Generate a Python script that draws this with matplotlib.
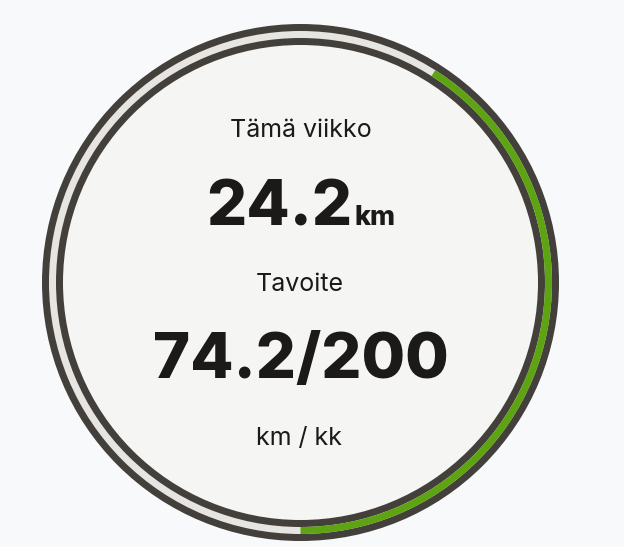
import matplotlib
matplotlib.use("Agg")
import matplotlib.pyplot as plt
from matplotlib.patches import Wedge, Circle

# ---- data ----
week_label = "Tämä viikko"
week_km = 24.2
goal_label = "Tavoite"
month_km = 74.2
goal_km = 200
unit_small = "km"
unit_label = "km / kk"
arc_progress = 0.41  # fraction of the ring drawn green

# ---- style ----
W, H = 624, 547
bg = "#f8f9fb"
dark = "#433f3b"
track = "#e7e5e2"
green = "#5ea312"
fill = "#f5f5f3"
text_col = "#1c1a19"
font = ["Inter", "DejaVu Sans"]

fig = plt.figure(figsize=(W / 100, H / 100), dpi=100, facecolor=bg)
ax = fig.add_axes([0, 0, 1, 1])
ax.set_xlim(0, W)
ax.set_ylim(0, H)
ax.set_aspect("equal")
ax.axis("off")
ax.set_facecolor(bg)

cx, cy = 300.5, H - 282.5
r_out, r1, r2, r_in = 258.5, 251.5, 244.5, 237.5

ax.add_patch(Circle((cx, cy), r_out, color=dark, lw=0))
ax.add_patch(Wedge((cx, cy), r1, 0, 360, width=r1 - r2, color=track, lw=0))
start = -90
ax.add_patch(Wedge((cx, cy), r1, start, start + 360 * arc_progress,
                   width=r1 - r2, color=green, lw=0))
ax.add_patch(Circle((cx, cy), r_in, color=fill, lw=0))

def Y(y):
    return H - y

ax.text(cx, Y(137), week_label, ha="center", va="baseline", fontsize=18,
        family=font, color=text_col)
ax.text(cx - 1, Y(291), goal_label, ha="center", va="baseline", fontsize=18,
        family=font, color=text_col)
ax.text(cx - 2, Y(445), unit_label, ha="center", va="baseline", fontsize=18,
        family=font, color=text_col)
ax.text(cx, Y(378), f"{month_km}/{goal_km}", ha="center", va="baseline",
        fontsize=45.5, family=font, fontweight=800, color=text_col)

# mixed size line "24.2km", centered as a whole
t_big = ax.text(0, Y(225), f"{week_km}", ha="left", va="baseline", fontsize=45.5,
                family=font, fontweight=800, color=text_col)
t_small = ax.text(0, Y(225), unit_small, ha="left", va="baseline", fontsize=19.5,
                  family=font, fontweight=800, color=text_col)
fig.canvas.draw()
r = fig.canvas.get_renderer()
inv = ax.transData.inverted()
def width(t):
    bb = t.get_window_extent(r)
    (x0, _), (x1, _) = inv.transform([(bb.x0, bb.y0), (bb.x1, bb.y1)])
    return x1 - x0
wb, ws = width(t_big), width(t_small)
gap = 2
total = wb + gap + ws
t_big.set_x(cx - total / 2)
t_small.set_x(cx - total / 2 + wb + gap)

fig.savefig("out.png", dpi=100, facecolor=bg)
